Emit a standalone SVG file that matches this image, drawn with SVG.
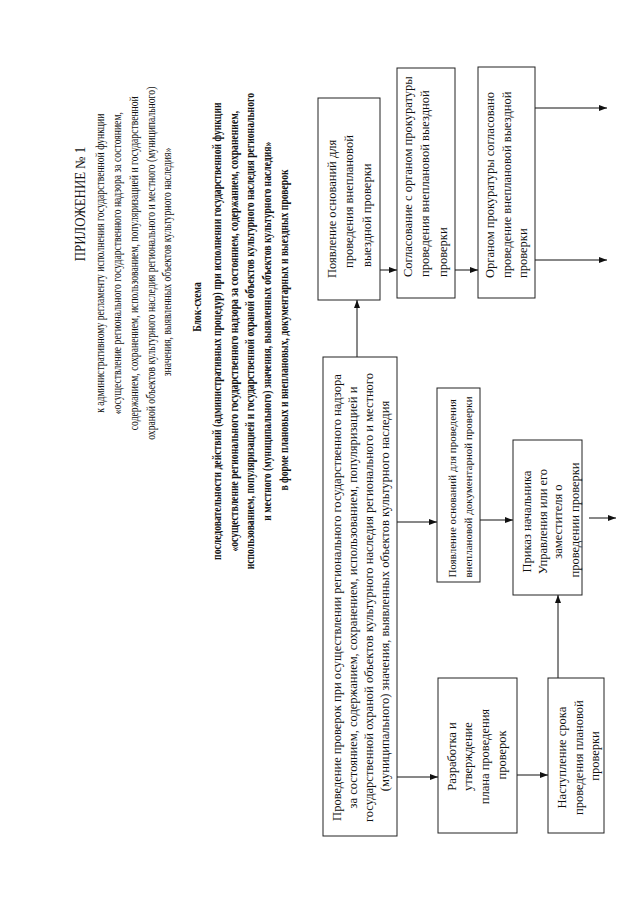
<svg xmlns="http://www.w3.org/2000/svg" width="640" height="905" viewBox="0 0 640 905">
<defs>
<style>
.t{font-family:"Liberation Serif","Times New Roman",serif;fill:#111;}
.hd{font-size:11.5px;}
.hd1{font-size:14px;}
.bd{font-size:11.5px;font-weight:bold;}
.bx{font-size:12.5px;}
.bxs{font-size:11px;}
.box{fill:#fff;stroke:#222;stroke-width:1;}
.ln{stroke:#111;stroke-width:1;fill:none;}
</style>
<marker id="ah" markerWidth="8" markerHeight="6" refX="8" refY="3" orient="auto" markerUnits="userSpaceOnUse">
<path d="M0,0 L8,3 L0,6 z" fill="#111"/>
</marker>
</defs>
<rect width="640" height="905" fill="#fff"/>

<g id="header">
<text class="t hd1" text-anchor="middle" transform="translate(85,204) rotate(-90) scale(0.92,1)">ПРИЛОЖЕНИЕ № 1</text>
<text class="t hd" text-anchor="middle" transform="translate(104,262) rotate(-90) scale(0.84,1)">
<tspan x="0" y="0">к административному регламенту исполнения государственной функции</tspan>
<tspan x="0" y="17">«осуществление регионального государственного надзора за состоянием,</tspan>
<tspan x="0" y="34">содержанием, сохранением, использованием, популяризацией и государственной</tspan>
<tspan x="0" y="51">охраной объектов культурного наследия регионального и местного (муниципального)</tspan>
<tspan x="0" y="67">значения, выявленных объектов культурного наследия»</tspan>
</text>
</g>

<g id="title">
<text class="t bd" text-anchor="middle" transform="translate(201,307) rotate(-90) scale(0.84,1)">Блок-схема</text>
<text class="t bd" text-anchor="middle" transform="translate(221,330) rotate(-90) scale(0.84,1)">
<tspan x="0" y="0">последовательности действий (административных процедур) при исполнении государственной  функции</tspan>
<tspan x="0" y="17">«осуществление регионального государственного надзора за состоянием, содержанием, сохранением,</tspan>
<tspan x="0" y="33">использованием, популяризацией и государственной охраной объектов культурного наследия регионального</tspan>
<tspan x="0" y="50">и местного (муниципального) значения, выявленных объектов культурного наследия»</tspan>
<tspan x="0" y="67">в форме плановых и внеплановых, документарных и выездных проверок</tspan>
</text>
</g>

<g id="connectors">
<line class="ln" x1="357" y1="357" x2="357" y2="300" marker-end="url(#ah)"/>
<line class="ln" x1="380" y1="270" x2="397" y2="270" marker-end="url(#ah)"/>
<line class="ln" x1="455" y1="270" x2="478" y2="270" marker-end="url(#ah)"/>
<line class="ln" x1="535" y1="108" x2="607" y2="108" marker-end="url(#ah)"/>
<line class="ln" x1="535" y1="260" x2="607" y2="260" marker-end="url(#ah)"/>
<line class="ln" x1="397" y1="522" x2="437" y2="522" marker-end="url(#ah)"/>
<line class="ln" x1="480" y1="520" x2="513" y2="520" marker-end="url(#ah)"/>
<line class="ln" x1="589" y1="518" x2="616" y2="518" marker-end="url(#ah)"/>
<line class="ln" x1="397" y1="777" x2="438" y2="777" marker-end="url(#ah)"/>
<line class="ln" x1="517" y1="775" x2="548" y2="775" marker-end="url(#ah)"/>
<line class="ln" x1="558" y1="678" x2="558" y2="595" marker-end="url(#ah)"/>
</g>

<g id="nodeA">
<rect class="box" x="323" y="357" width="74" height="479"/>
<text class="t bx" text-anchor="middle" transform="translate(341,596) rotate(-90)">
<tspan x="0" y="0">Проведение проверок при осуществлении  регионального государственного надзора</tspan>
<tspan x="0" y="16">за состоянием, содержанием, сохранением, использованием, популяризацией и</tspan>
<tspan x="0" y="32">государственной охраной объектов культурного наследия регионального и местного</tspan>
<tspan x="0" y="48">(муниципального) значения, выявленных объектов культурного наследия</tspan>
</text>
</g>

<g id="nodeB1">
<rect class="box" x="318" y="98" width="62" height="202"/>
<text class="t bx" text-anchor="start" transform="translate(336,0) rotate(-90)">
<tspan x="-278" y="0">Появление оснований для</tspan>
<tspan x="-268" y="17">проведения внеплановой</tspan>
<tspan x="-267" y="35">выездной проверки</tspan>
</text>
</g>

<g id="nodeB2">
<rect class="box" x="397" y="68" width="58" height="230"/>
<text class="t bx" text-anchor="start" transform="translate(412,277) rotate(-90)">
<tspan x="0" y="0">Согласование с органом прокуратуры</tspan>
<tspan x="0" y="17">проведения внеплановой выездной</tspan>
<tspan x="0" y="35">проверки</tspan>
</text>
</g>

<g id="nodeB3">
<rect class="box" x="478" y="67" width="57" height="231"/>
<text class="t bx" text-anchor="start" transform="translate(494,278) rotate(-90)">
<tspan x="0" y="0">Органом прокуратуры согласовано</tspan>
<tspan x="0" y="17">проведение внеплановой выездной</tspan>
<tspan x="0" y="33">проверки</tspan>
</text>
</g>

<g id="nodeC1">
<rect class="box" x="437" y="388" width="43" height="194"/>
<text class="t bxs" text-anchor="middle" transform="translate(456,487) rotate(-90)">
<tspan x="0" y="0">Появление оснований для проведения</tspan>
<tspan x="0" y="16">внеплановой документарной проверки</tspan>
</text>
</g>

<g id="nodeC2">
<rect class="box" x="513" y="440" width="69" height="155"/>
<text class="t bx" text-anchor="middle" transform="translate(531,520) rotate(-90)">
<tspan x="0" y="0">Приказ начальника</tspan>
<tspan x="0" y="16">Управления или его</tspan>
<tspan x="0" y="31">заместителя о</tspan>
<tspan x="0" y="48">проведении проверки</tspan>
</text>
</g>

<g id="nodeD1">
<rect class="box" x="438" y="678" width="79" height="155"/>
<text class="t bx" text-anchor="middle" transform="translate(456,755) rotate(-90)">
<tspan x="0" y="0">Разработка и</tspan>
<tspan x="0" y="16">утверждение</tspan>
<tspan x="0" y="33">плана проведения</tspan>
<tspan x="0" y="50">проверок</tspan>
</text>
</g>

<g id="nodeD2">
<rect class="box" x="548" y="678" width="56" height="155"/>
<text class="t bx" text-anchor="middle" transform="translate(566,756) rotate(-90)">
<tspan x="0" y="0">Наступление срока</tspan>
<tspan x="0" y="17">проведения плановой</tspan>
<tspan x="0" y="33">проверки</tspan>
</text>
</g>
</svg>
